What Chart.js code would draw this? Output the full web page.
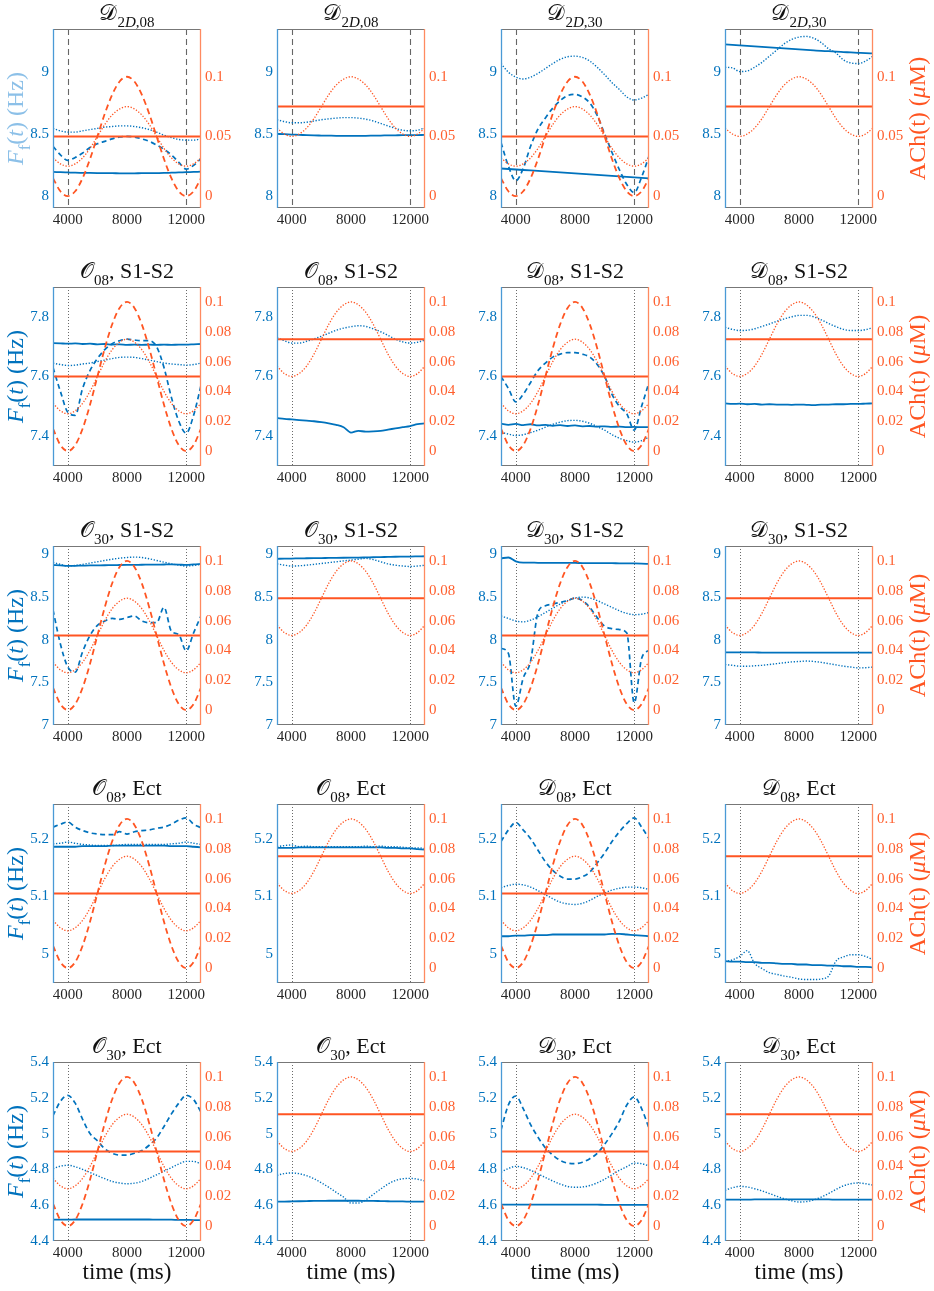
<!DOCTYPE html>
<html>
<head>
<meta charset="utf-8">
<script src="https://cdn.jsdelivr.net/npm/chart.js@4/dist/chart.umd.min.js"></script>
<style>
  html, body { margin: 0; padding: 0; background: #fff; }
  #fig { position: relative; width: 934px; height: 1291px; overflow: hidden; }
  #fig canvas { position: absolute; }
</style>
</head>
<body>
<div id="fig"></div>
<script>
// ---- data (time in ms, Ff in Hz, ACh in uM) ----
const times = [3000, 3500, 4000, 4500, 5000, 5500, 6000, 6500, 7000, 7500, 8000,
               8500, 9000, 9500, 10000, 10500, 11000, 11500, 12000, 12500, 13000];
const xTicks = [4000, 8000, 12000];
const markerTimes = [4000, 12000];

const achTimes = [3000, 13000];
const achConstLow = [0.05, 0.05];
const achConstHigh = [0.075, 0.075];
const achDashed = [0.015, 0.004, 0, 0.004, 0.015, 0.031, 0.05, 0.069, 0.085, 0.096, 0.1,
                   0.096, 0.085, 0.069, 0.05, 0.031, 0.015, 0.004, 0, 0.004, 0.015];
const achDottedLow = [0.032, 0.027, 0.025, 0.027, 0.032, 0.040, 0.05, 0.060, 0.068, 0.073, 0.075,
                      0.073, 0.068, 0.060, 0.05, 0.040, 0.032, 0.027, 0.025, 0.027, 0.032];
const achDottedHigh = [0.057, 0.052, 0.05, 0.052, 0.057, 0.065, 0.075, 0.085, 0.093, 0.098, 0.1,
                       0.098, 0.093, 0.085, 0.075, 0.065, 0.057, 0.052, 0.05, 0.052, 0.057];

// row 1
const r1c1Solid = [8.192, 8.19, 8.188, 8.186, 8.185, 8.184, 8.183, 8.182, 8.182, 8.181, 8.181, 8.181, 8.182, 8.182, 8.183, 8.184, 8.186, 8.188, 8.19, 8.192, 8.194];
const r1c1Dashed = [8.40, 8.33, 8.285, 8.31, 8.345, 8.39, 8.42, 8.44, 8.46, 8.475, 8.48, 8.475, 8.46, 8.44, 8.41, 8.375, 8.33, 8.27, 8.215, 8.245, 8.30];
const r1c1Dotted = [8.545, 8.525, 8.515, 8.515, 8.525, 8.535, 8.545, 8.555, 8.56, 8.565, 8.565, 8.56, 8.55, 8.535, 8.515, 8.49, 8.47, 8.455, 8.45, 8.45, 8.46];
const r1c2Solid = [8.50, 8.498, 8.495, 8.493, 8.49, 8.488, 8.487, 8.486, 8.485, 8.485, 8.485, 8.485, 8.485, 8.486, 8.487, 8.488, 8.489, 8.49, 8.49, 8.491, 8.492];
const r1c2Dotted = [8.615, 8.60, 8.59, 8.59, 8.595, 8.605, 8.615, 8.622, 8.628, 8.632, 8.632, 8.628, 8.62, 8.605, 8.585, 8.565, 8.545, 8.53, 8.525, 8.53, 8.55];
const r1c3Solid = [8.22, 8.216, 8.212, 8.208, 8.204, 8.2, 8.196, 8.192, 8.188, 8.184, 8.18, 8.176, 8.172, 8.168, 8.164, 8.16, 8.156, 8.152, 8.148, 8.144, 8.14];
const r1c3Dashed = [8.43, 8.24, 8.12, 8.22, 8.40, 8.54, 8.63, 8.71, 8.77, 8.81, 8.82, 8.80, 8.75, 8.65, 8.50, 8.35, 8.21, 8.09, 8.025, 8.15, 8.32];
const r1c3Dotted = [9.07, 9.0, 8.96, 8.945, 8.96, 8.99, 9.03, 9.07, 9.105, 9.125, 9.13, 9.12, 9.09, 9.04, 8.98, 8.915, 8.86, 8.80, 8.775, 8.79, 8.82];
const r1c4Solid = [9.225, 9.221, 9.217, 9.213, 9.209, 9.205, 9.201, 9.197, 9.193, 9.189, 9.185, 9.181, 9.177, 9.173, 9.17, 9.166, 9.163, 9.16, 9.157, 9.154, 9.152];
const r1c4Dotted = [9.04, 9.035, 9.005, 9.01, 9.04, 9.08, 9.13, 9.18, 9.23, 9.265, 9.285, 9.29, 9.275, 9.24, 9.19, 9.155, 9.10, 9.075, 9.07, 9.09, 9.13];

// row 2
const r2c1Solid = [7.712, 7.711, 7.71, 7.711, 7.709, 7.71, 7.708, 7.709, 7.707, 7.708, 7.706, 7.707, 7.706, 7.707, 7.706, 7.707, 7.706, 7.707, 7.707, 7.708, 7.709];
const r2c1Dashed = [7.63, 7.55, 7.48, 7.47, 7.56, 7.62, 7.66, 7.69, 7.71, 7.72, 7.725, 7.722, 7.72, 7.72, 7.70, 7.63, 7.53, 7.45, 7.41, 7.47, 7.57];
const r2c1Dotted = [7.645, 7.64, 7.637, 7.638, 7.642, 7.645, 7.65, 7.655, 7.66, 7.664, 7.665, 7.664, 7.66, 7.655, 7.65, 7.645, 7.642, 7.64, 7.638, 7.64, 7.645];
const r2c2Solid = [7.461, 7.458, 7.456, 7.454, 7.452, 7.45, 7.447, 7.443, 7.438, 7.43, 7.412, 7.418, 7.415, 7.416, 7.418, 7.422, 7.426, 7.43, 7.434, 7.44, 7.443];
const r2c2Dotted = [7.73, 7.72, 7.712, 7.712, 7.718, 7.726, 7.735, 7.745, 7.755, 7.762, 7.767, 7.77, 7.768, 7.76, 7.75, 7.738, 7.725, 7.716, 7.712, 7.715, 7.722];
const r2c3Solid = [7.442, 7.438, 7.441, 7.437, 7.44, 7.436, 7.438, 7.435, 7.437, 7.434, 7.436, 7.433, 7.434, 7.432, 7.433, 7.431, 7.432, 7.43, 7.431, 7.43, 7.43];
const r2c3Dashed = [7.60, 7.56, 7.515, 7.54, 7.58, 7.62, 7.645, 7.665, 7.675, 7.68, 7.68, 7.675, 7.665, 7.64, 7.60, 7.54, 7.50, 7.475, 7.42, 7.50, 7.58];
const r2c3Dotted = [7.413, 7.407, 7.402, 7.405, 7.412, 7.42, 7.43, 7.44, 7.447, 7.452, 7.453, 7.45, 7.443, 7.432, 7.42, 7.405, 7.393, 7.385, 7.38, 7.385, 7.397];
const r2c4Solid = [7.51, 7.508, 7.509, 7.507, 7.508, 7.506, 7.507, 7.506, 7.506, 7.505, 7.506, 7.505, 7.504, 7.506, 7.506, 7.507, 7.507, 7.508, 7.508, 7.509, 7.51];
const r2c4Dotted = [7.765, 7.758, 7.754, 7.755, 7.76, 7.768, 7.776, 7.785, 7.793, 7.8, 7.805, 7.805, 7.8, 7.79, 7.778, 7.767, 7.758, 7.754, 7.754, 7.757, 7.764];

// row 3
const r3c1Solid = [8.877, 8.872, 8.866, 8.868, 8.87, 8.872, 8.873, 8.874, 8.876, 8.877, 8.878, 8.879, 8.88, 8.881, 8.882, 8.883, 8.884, 8.882, 8.878, 8.885, 8.89];
const r3c1Dashed = [8.35, 7.95, 7.68, 7.62, 7.86, 8.05, 8.17, 8.22, 8.25, 8.24, 8.26, 8.28, 8.22, 8.20, 8.20, 8.38, 8.10, 8.06, 7.87, 8.08, 8.28];
const r3c1Dotted = [8.905, 8.885, 8.865, 8.872, 8.885, 8.9, 8.915, 8.93, 8.945, 8.957, 8.965, 8.97, 8.965, 8.95, 8.93, 8.91, 8.89, 8.875, 8.865, 8.872, 8.885];
const r3c2Solid = [8.95, 8.952, 8.953, 8.955, 8.956, 8.957, 8.958, 8.96, 8.961, 8.962, 8.963, 8.964, 8.966, 8.968, 8.97, 8.972, 8.974, 8.975, 8.976, 8.978, 8.98];
const r3c2Dotted = [8.89, 8.875, 8.865, 8.868, 8.875, 8.885, 8.895, 8.905, 8.915, 8.925, 8.935, 8.945, 8.955, 8.94, 8.915, 8.89, 8.875, 8.865, 8.86, 8.865, 8.875];
const r3c3Solid = [8.955, 8.965, 8.92, 8.905, 8.905, 8.903, 8.903, 8.902, 8.902, 8.901, 8.901, 8.9, 8.9, 8.899, 8.899, 8.898, 8.897, 8.896, 8.895, 8.893, 8.89];
const r3c3Dashed = [7.90, 7.84, 7.22, 7.55, 7.75, 8.32, 8.40, 8.42, 8.44, 8.46, 8.49, 8.46, 8.38, 8.26, 8.16, 8.13, 8.12, 8.08, 7.26, 7.78, 7.88];
const r3c3Dotted = [8.28, 8.25, 8.22, 8.21, 8.23, 8.27, 8.32, 8.37, 8.42, 8.46, 8.49, 8.50, 8.49, 8.46, 8.42, 8.38, 8.34, 8.31, 8.295, 8.30, 8.32];
const r3c4Solid = [7.852, 7.852, 7.851, 7.851, 7.851, 7.85, 7.85, 7.85, 7.85, 7.85, 7.85, 7.85, 7.85, 7.85, 7.85, 7.849, 7.849, 7.849, 7.849, 7.849, 7.849];
const r3c4Dotted = [7.71, 7.70, 7.69, 7.69, 7.695, 7.70, 7.71, 7.72, 7.73, 7.74, 7.745, 7.75, 7.745, 7.735, 7.72, 7.705, 7.69, 7.68, 7.67, 7.672, 7.68];

// row 4
const r4c1Solid = [5.186, 5.186, 5.186, 5.186, 5.187, 5.187, 5.187, 5.187, 5.188, 5.188, 5.188, 5.188, 5.188, 5.188, 5.188, 5.188, 5.187, 5.187, 5.187, 5.186, 5.185];
const r4c1Dashed = [5.22, 5.225, 5.229, 5.22, 5.214, 5.21, 5.208, 5.207, 5.207, 5.212, 5.208, 5.212, 5.214, 5.215, 5.218, 5.22, 5.225, 5.232, 5.236, 5.225, 5.219];
const r4c1Dotted = [5.191, 5.192, 5.194, 5.192, 5.19, 5.189, 5.188, 5.188, 5.188, 5.189, 5.19, 5.19, 5.19, 5.19, 5.19, 5.19, 5.191, 5.192, 5.194, 5.192, 5.19];
const r4c2Solid = [5.184, 5.184, 5.184, 5.185, 5.185, 5.185, 5.185, 5.185, 5.185, 5.185, 5.185, 5.185, 5.185, 5.185, 5.185, 5.184, 5.184, 5.183, 5.183, 5.182, 5.181];
const r4c2Dotted = [5.186, 5.188, 5.189, 5.186, 5.187, 5.186, 5.186, 5.186, 5.186, 5.186, 5.186, 5.186, 5.187, 5.186, 5.187, 5.186, 5.186, 5.185, 5.184, 5.184, 5.183];
const r4c3Solid = [5.031, 5.031, 5.032, 5.032, 5.033, 5.033, 5.033, 5.034, 5.034, 5.034, 5.034, 5.034, 5.034, 5.034, 5.034, 5.035, 5.035, 5.034, 5.033, 5.032, 5.031];
const r4c3Dashed = [5.195, 5.215, 5.228, 5.215, 5.20, 5.18, 5.16, 5.145, 5.135, 5.13, 5.13, 5.134, 5.142, 5.158, 5.175, 5.195, 5.212, 5.226, 5.236, 5.22, 5.20];
const r4c3Dotted = [5.115, 5.119, 5.121, 5.12, 5.116, 5.11, 5.103, 5.096, 5.09, 5.087, 5.086, 5.088, 5.093, 5.1, 5.106, 5.111, 5.114, 5.116, 5.116, 5.115, 5.112];
const r4c4Solid = [4.988, 4.987, 4.987, 4.986, 4.986, 4.985, 4.985, 4.984, 4.983, 4.983, 4.982, 4.982, 4.981, 4.981, 4.98, 4.98, 4.979, 4.979, 4.978, 4.978, 4.977];
const r4c4Dotted = [4.987, 4.99, 4.996, 5.006, 4.984, 4.975, 4.968, 4.965, 4.962, 4.96, 4.957, 4.956, 4.956, 4.957, 4.962, 4.988, 4.995, 4.999, 4.999, 4.996, 4.99];

// row 5
const r5c1Solid = [4.519, 4.519, 4.519, 4.52, 4.52, 4.52, 4.52, 4.52, 4.52, 4.52, 4.52, 4.52, 4.52, 4.52, 4.519, 4.519, 4.519, 4.518, 4.518, 4.517, 4.517];
const r5c1Dashed = [5.10, 5.18, 5.214, 5.17, 5.08, 5.00, 4.96, 4.915, 4.89, 4.88, 4.88, 4.89, 4.905, 4.935, 4.975, 5.04, 5.11, 5.17, 5.214, 5.19, 5.12];
const r5c1Dotted = [4.804, 4.818, 4.823, 4.815, 4.80, 4.783, 4.765, 4.748, 4.733, 4.724, 4.72, 4.723, 4.733, 4.75, 4.77, 4.79, 4.81, 4.83, 4.845, 4.845, 4.83];
const r5c2Solid = [4.62, 4.62, 4.621, 4.622, 4.623, 4.624, 4.624, 4.625, 4.625, 4.625, 4.625, 4.625, 4.624, 4.624, 4.623, 4.622, 4.621, 4.621, 4.62, 4.62, 4.62];
const r5c2Dotted = [4.767, 4.777, 4.78, 4.776, 4.765, 4.748, 4.725, 4.70, 4.672, 4.645, 4.612, 4.612, 4.63, 4.66, 4.69, 4.718, 4.738, 4.748, 4.75, 4.745, 4.735];
const r5c3Solid = [4.603, 4.603, 4.603, 4.603, 4.603, 4.603, 4.603, 4.603, 4.603, 4.603, 4.603, 4.603, 4.603, 4.603, 4.602, 4.602, 4.602, 4.602, 4.602, 4.602, 4.602];
const r5c3Dashed = [5.02, 5.16, 5.21, 5.14, 5.05, 4.98, 4.92, 4.88, 4.85, 4.835, 4.832, 4.84, 4.86, 4.89, 4.94, 5.00, 5.07, 5.16, 5.205, 5.14, 5.03];
const r5c3Dotted = [4.785, 4.805, 4.817, 4.81, 4.795, 4.775, 4.755, 4.735, 4.718, 4.705, 4.70, 4.702, 4.71, 4.725, 4.745, 4.77, 4.795, 4.815, 4.835, 4.832, 4.82];
const r5c4Solid = [4.631, 4.631, 4.631, 4.631, 4.632, 4.632, 4.632, 4.632, 4.632, 4.632, 4.632, 4.632, 4.632, 4.632, 4.632, 4.631, 4.631, 4.631, 4.631, 4.631, 4.631];
const r5c4Dotted = [4.683, 4.698, 4.705, 4.702, 4.692, 4.68, 4.665, 4.65, 4.636, 4.625, 4.618, 4.62, 4.63, 4.645, 4.665, 4.688, 4.708, 4.72, 4.724, 4.72, 4.712];

// axis ranges and ticks per row
const ffMin = [7.9, 7.3, 7.0, 4.95, 4.4];
const ffMax = [9.35, 7.9, 9.1, 5.26, 5.4];
const ffTicks = [[8, 8.5, 9], [7.4, 7.6, 7.8], [7, 7.5, 8, 8.5, 9], [5, 5.1, 5.2], [4.4, 4.6, 4.8, 5, 5.2, 5.4]];
const achMin = [-0.01, -0.01, -0.01, -0.01, -0.01];
const achMax = [0.14, 0.11, 0.11, 0.11, 0.11];
const achTicks = [[0, 0.05, 0.1], [0, 0.02, 0.04, 0.06, 0.08, 0.1], [0, 0.02, 0.04, 0.06, 0.08, 0.1],
                  [0, 0.02, 0.04, 0.06, 0.08, 0.1], [0, 0.02, 0.04, 0.06, 0.08, 0.1]];

// panel titles: letter, subscript, tail
const titleLetters = [['𝒟', '𝒟', '𝒟', '𝒟'], ['𝒪', '𝒪', '𝒟', '𝒟'], ['𝒪', '𝒪', '𝒟', '𝒟'], ['𝒪', '𝒪', '𝒟', '𝒟'], ['𝒪', '𝒪', '𝒟', '𝒟']];
const titleSubs = [['2D,08', '2D,08', '2D,30', '2D,30'], ['08', '08', '08', '08'], ['30', '30', '30', '30'], ['08', '08', '08', '08'], ['30', '30', '30', '30']];
const titleTails = ['', ', S1-S2', ', S1-S2', ', Ect', ', Ect'];

const blueSeries = [
  [[r1c1Solid, r1c1Dashed, r1c1Dotted], [r1c2Solid, null, r1c2Dotted], [r1c3Solid, r1c3Dashed, r1c3Dotted], [r1c4Solid, null, r1c4Dotted]],
  [[r2c1Solid, r2c1Dashed, r2c1Dotted], [r2c2Solid, null, r2c2Dotted], [r2c3Solid, r2c3Dashed, r2c3Dotted], [r2c4Solid, null, r2c4Dotted]],
  [[r3c1Solid, r3c1Dashed, r3c1Dotted], [r3c2Solid, null, r3c2Dotted], [r3c3Solid, r3c3Dashed, r3c3Dotted], [r3c4Solid, null, r3c4Dotted]],
  [[r4c1Solid, r4c1Dashed, r4c1Dotted], [r4c2Solid, null, r4c2Dotted], [r4c3Solid, r4c3Dashed, r4c3Dotted], [r4c4Solid, null, r4c4Dotted]],
  [[r5c1Solid, r5c1Dashed, r5c1Dotted], [r5c2Solid, null, r5c2Dotted], [r5c3Solid, r5c3Dashed, r5c3Dotted], [r5c4Solid, null, r5c4Dotted]]
];

// ---- layout ----
const plotLefts = [53, 277, 501, 725];
const plotTops = [29, 287, 546, 804, 1062];
const plotW = 148, plotH = 179;
const padL = [53, 30, 30, 30];
const padR = [45, 45, 45, 60];
const padT = 29, padB = 50;

const BLUE = '#0072BD';
const ORANGE = '#FF5522';
const SERIF = "'Liberation Serif', 'DejaVu Serif', serif";
const SCRIPT = "'DejaVu Serif', 'DejaVu Sans', 'Noto Sans', serif";

function pieceFont(p, size) {
  const s = p.sub ? Math.round(size * 0.7) : size;
  return (p.italic ? 'italic ' : '') + s + 'px ' + (p.script ? SCRIPT : SERIF);
}

function drawRich(ctx, parts, cx, baseline, size) {
  let w = 0;
  parts.forEach(p => { ctx.font = pieceFont(p, size); w += ctx.measureText(p.t).width; });
  let x = cx - w / 2;
  ctx.textAlign = 'left';
  ctx.textBaseline = 'alphabetic';
  parts.forEach(p => {
    ctx.font = pieceFont(p, size);
    ctx.fillText(p.t, x, baseline + (p.sub ? size * 0.3 : 0));
    x += ctx.measureText(p.t).width;
  });
}

const panelDecor = {
  id: 'panelDecor',
  beforeDatasetsDraw(chart, args, o) {
    const { ctx, chartArea: a, scales } = chart;
    ctx.save();
    ctx.strokeStyle = o.markerColor;
    ctx.lineWidth = o.markerWidth;
    ctx.setLineDash(o.markerDash);
    markerTimes.forEach(t => {
      const x = Math.round(scales.x.getPixelForValue(t)) + 0.5;
      ctx.beginPath();
      ctx.moveTo(x, a.top);
      ctx.lineTo(x, a.bottom);
      ctx.stroke();
    });
    ctx.restore();
  },
  afterDraw(chart, args, o) {
    const { ctx, chartArea: a } = chart;
    ctx.save();
    // box
    ctx.lineWidth = 1;
    ctx.strokeStyle = '#777';
    ctx.beginPath();
    ctx.moveTo(a.left, a.top + 0.5); ctx.lineTo(a.right, a.top + 0.5);
    ctx.moveTo(a.left, a.bottom - 0.5); ctx.lineTo(a.right, a.bottom - 0.5);
    ctx.stroke();
    ctx.lineWidth = 1.3;
    ctx.strokeStyle = '#4a9ad6';
    ctx.beginPath(); ctx.moveTo(a.left + 0.5, a.top); ctx.lineTo(a.left + 0.5, a.bottom); ctx.stroke();
    ctx.strokeStyle = '#ff8a60';
    ctx.beginPath(); ctx.moveTo(a.right - 0.5, a.top); ctx.lineTo(a.right - 0.5, a.bottom); ctx.stroke();

    // title
    ctx.fillStyle = '#111';
    drawRich(ctx, o.title, (a.left + a.right) / 2, a.top - 9, 22);

    const cy = (a.top + a.bottom) / 2;
    if (o.leftLabel) {
      ctx.save();
      ctx.translate(o.leftLabelX, cy);
      ctx.rotate(-Math.PI / 2);
      ctx.fillStyle = o.leftLabelColor;
      drawRich(ctx, [{ t: 'F', italic: true }, { t: 'f', sub: true }, { t: '(' }, { t: 't', italic: true }, { t: ') (Hz)' }], 0, 8, 24);
      ctx.restore();
    }
    if (o.rightLabel) {
      ctx.save();
      ctx.translate(o.rightLabelX, cy);
      ctx.rotate(-Math.PI / 2);
      ctx.fillStyle = ORANGE;
      drawRich(ctx, [{ t: 'ACh(t) (' }, { t: 'μ', italic: true }, { t: 'M)' }], 0, 8, 24);
      ctx.restore();
    }
    if (o.xLabel) {
      ctx.fillStyle = '#111';
      drawRich(ctx, [{ t: 'time (ms)' }], (a.left + a.right) / 2, a.bottom + 38, 23);
    }
    ctx.restore();
  }
};

function pts(xs, ys) {
  return xs.map((x, i) => ({ x: x, y: ys[i] }));
}

function fmt(v) {
  return String(+(+v).toFixed(3));
}

const fig = document.getElementById('fig');

for (let r = 0; r < 5; r++) {
  for (let c = 0; c < 4; c++) {
    const L = padL[c], R = padR[c];
    const W = L + plotW + R, H = padT + plotH + padB;
    const canvas = document.createElement('canvas');
    canvas.width = W;
    canvas.height = H;
    canvas.style.left = (plotLefts[c] - L) + 'px';
    canvas.style.top = (plotTops[r] - padT) + 'px';
    canvas.style.width = W + 'px';
    canvas.style.height = H + 'px';
    fig.appendChild(canvas);

    const fullSet = (c === 0 || c === 2);
    const [solid, dashed, dotted] = blueSeries[r][c];
    const datasets = [];
    // orange (ACh) on top
    datasets.push({ data: pts(achTimes, fullSet ? achConstLow : achConstHigh), yAxisID: 'yR',
      borderColor: ORANGE, borderWidth: 2 });
    if (fullSet) {
      datasets.push({ data: pts(times, achDashed), yAxisID: 'yR', borderColor: ORANGE,
        borderWidth: 1.8, borderDash: [6, 4] });
    }
    datasets.push({ data: pts(times, fullSet ? achDottedLow : achDottedHigh), yAxisID: 'yR',
      borderColor: ORANGE, borderWidth: 1.3, borderDash: [1.3, 1.7] });
    // blue (Ff)
    datasets.push({ data: pts(times, solid), yAxisID: 'yL', borderColor: BLUE, borderWidth: 1.8 });
    if (dashed) {
      datasets.push({ data: pts(times, dashed), yAxisID: 'yL', borderColor: BLUE,
        borderWidth: 1.7, borderDash: [5, 3.5] });
    }
    datasets.push({ data: pts(times, dotted), yAxisID: 'yL', borderColor: BLUE,
      borderWidth: 1.4, borderDash: [1.3, 1.7] });

    const title = [{ t: titleLetters[r][c], script: true }];
    const sub = titleSubs[r][c];
    if (sub.indexOf('D') >= 0) {
      title.push({ t: '2', sub: true }, { t: 'D', sub: true, italic: true }, { t: sub.slice(2), sub: true });
    } else {
      title.push({ t: sub, sub: true });
    }
    if (titleTails[r]) title.push({ t: titleTails[r] });

    new Chart(canvas, {
      type: 'line',
      data: { datasets: datasets },
      options: {
        responsive: false,
        animation: false,
        events: [],
        layout: { padding: { top: padT, left: 0, right: 0, bottom: 0 } },
        elements: {
          point: { radius: 0 },
          line: { tension: 0.4, cubicInterpolationMode: 'monotone', fill: false }
        },
        plugins: {
          legend: { display: false },
          tooltip: { enabled: false },
          panelDecor: {
            title: title,
            markerColor: r === 0 ? '#666' : '#444',
            markerWidth: r === 0 ? 1.1 : 0.8,
            markerDash: r === 0 ? [6, 4] : [1, 2],
            leftLabel: c === 0,
            leftLabelX: 15,
            leftLabelColor: r === 0 ? '#8cc0e8' : BLUE,
            rightLabel: c === 3,
            rightLabelX: 917 - (plotLefts[c] - L),
            xLabel: r === 4
          }
        },
        scales: {
          x: {
            type: 'linear', min: 3000, max: 13000,
            afterBuildTicks: s => { s.ticks = xTicks.map(v => ({ value: v })); },
            afterFit: s => { s.height = padB; },
            grid: { display: false, drawTicks: false },
            border: { display: false },
            ticks: { color: '#262626', font: { family: SERIF, size: 15 }, padding: 3,
              maxRotation: 0, autoSkip: false, callback: v => fmt(v) }
          },
          yL: {
            type: 'linear', position: 'left', min: ffMin[r], max: ffMax[r],
            afterBuildTicks: s => { s.ticks = ffTicks[r].map(v => ({ value: v })); },
            afterFit: s => { s.width = L; },
            grid: { display: false, drawTicks: false },
            border: { display: false },
            ticks: { color: BLUE, font: { family: SERIF, size: 15 }, padding: 4,
              autoSkip: false, callback: v => fmt(v) }
          },
          yR: {
            type: 'linear', position: 'right', min: achMin[r], max: achMax[r],
            afterBuildTicks: s => { s.ticks = achTicks[r].map(v => ({ value: v })); },
            afterFit: s => { s.width = R; },
            grid: { display: false, drawTicks: false },
            border: { display: false },
            ticks: { color: '#FF5F2E', font: { family: SERIF, size: 15 }, padding: 4,
              autoSkip: false, callback: v => fmt(v) }
          }
        }
      },
      plugins: [panelDecor]
    });
  }
}
</script>
</body>
</html>
